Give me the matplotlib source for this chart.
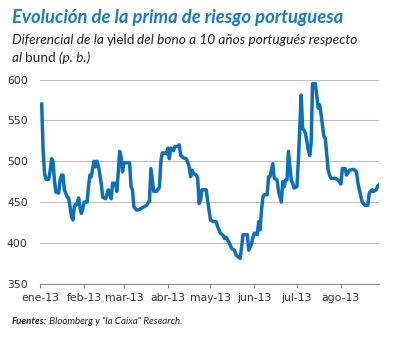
import numpy as np
import pandas as pd
import matplotlib
matplotlib.use('Agg')
import matplotlib.pyplot as plt

# ---- datos ----
# dias transcurridos desde el 1 de enero de 2013
dias = [1, 2, 3, 4, 6, 7, 8, 9, 10, 11, 13, 14, 15, 16, 17, 19, 20, 21, 22, 23,
        24, 25, 26, 27, 28, 29, 30, 31, 33, 34, 35, 36, 37, 38, 39, 40, 41, 43, 44, 46,
        48, 50, 51, 53, 54, 56, 57, 58, 59, 61, 63, 64, 65, 66, 68, 70, 73, 75, 77, 78,
        79, 80, 82, 84, 85, 86, 88, 89, 90, 91, 92, 94, 95, 97, 98, 99, 101, 103, 105, 106,
        107, 108, 110, 111, 112, 113, 114, 117, 118, 120, 122, 124, 125, 127, 129, 130, 131, 133, 135, 137,
        138, 141, 142, 143, 146, 147, 149, 150, 151, 153, 154, 155, 156, 157, 158, 160, 161, 162, 164, 165,
        167, 168, 170, 171, 172, 173, 174, 175, 177, 178, 179, 181, 182, 184, 185, 186, 187, 189, 190, 191,
        192, 194, 196, 197, 198, 200, 201, 203, 204, 205, 208, 210, 212, 213, 215, 216, 218, 221, 223, 224,
        225, 227, 229, 231, 232, 234, 235, 237, 238, 239]
prima = [570, 513, 485, 478, 478, 489, 503, 499, 477, 462, 461, 477, 483, 483, 465, 456, 455, 444, 432, 428,
         444, 447, 447, 455, 443, 436, 442, 450, 450, 469, 483, 481, 492, 500, 493, 500, 494, 473, 456, 454,
         465, 454, 473, 473, 463, 512, 505, 487, 498, 498, 498, 469, 465, 444, 440, 441, 444, 446, 452, 491,
         477, 463, 463, 468, 499, 510, 510, 509, 516, 503, 516, 513, 518, 518, 520, 507, 504, 503, 493, 481,
         489, 485, 483, 479, 448, 452, 465, 465, 452, 428, 426, 426, 420, 412, 409, 405, 407, 401, 393, 391,
         385, 381, 395, 410, 410, 391, 399, 407, 412, 410, 426, 416, 440, 456, 459, 459, 481, 481, 497, 479,
         477, 463, 450, 475, 469, 477, 477, 512, 477, 473, 467, 469, 501, 581, 540, 538, 534, 514, 507, 522,
         595, 595, 565, 569, 558, 530, 528, 489, 483, 479, 479, 477, 472, 491, 491, 483, 489, 490, 487, 473,
         465, 450, 446, 446, 461, 465, 463, 465, 470, 471]

meses = ['ene-13', 'feb-13', 'mar-13', 'abr-13', 'may-13', 'jun-13', 'jul-13', 'ago-13']
y_ticks = [350, 400, 450, 500, 550, 600]

inicio = pd.Timestamp('2013-01-01')
fechas = inicio + pd.to_timedelta(dias, unit='D')
pos_meses = pd.date_range('2013-01-01', periods=len(meses), freq='MS')

azul = '#0c6fba'
gris = '#bfbfbf'

fig = plt.figure(figsize=(3.95, 3.38), dpi=100)
ax = fig.add_axes([0.102, 0.1607, 0.858, 0.604])

ax.plot(fechas, prima, color=azul, lw=2.5, solid_joinstyle='round', zorder=3)

ax.set_ylim(350, 600)
ax.set_xlim(inicio, inicio + pd.Timedelta(days=239))
ax.set_yticks(y_ticks)
ax.set_xticks(pos_meses)
ax.set_xticklabels(meses)
ax.grid(axis='y', color=gris, lw=0.8)
ax.set_axisbelow(True)

for s in ['top', 'right', 'left']:
    ax.spines[s].set_visible(False)
ax.spines['bottom'].set_color('#8c8c8c')
ax.spines['bottom'].set_linewidth(0.8)
ax.tick_params(axis='y', length=0, pad=9, labelsize=7.8, labelcolor='#333333')
ax.tick_params(axis='x', length=3, direction='out', color='#8c8c8c', pad=4,
               labelsize=7.8, labelcolor='#333333')

# ---- textos ----
fig.text(12 / 395, 1 - 17 / 338, 'Evolución de la prima de riesgo portuguesa',
         color='#1a7cc4', fontsize=13.3, fontweight='bold', fontstyle='italic',
         family='Lato', va='center', ha='left')

fs = 9.8
txt = dict(fontsize=fs, family='Lato', color='#222222')
t1 = fig.text(12 / 395, 1 - 40 / 338, 'Diferencial de la ', fontstyle='italic',
              va='center', **txt)
t2 = ax.annotate('yield', xy=(1, 0), xycoords=t1, va='bottom', **txt)
t3 = ax.annotate('del bono a 10 años portugués respecto', xy=(1, 0), xycoords=t2,
                 xytext=(0.8, 0), textcoords='offset points',
                 va='bottom', fontstyle='italic', **txt)
t4 = fig.text(12 / 395, 1 - 58 / 338, 'al ', fontstyle='italic', va='center', **txt)
t5 = ax.annotate('bund', xy=(1, 0), xycoords=t4, va='bottom', **txt)
ax.annotate('(p. b.)', xy=(1, 0), xycoords=t5, xytext=(2.2, 0), textcoords='offset points',
            va='bottom', fontstyle='italic', **txt)

f1 = fig.text(12 / 395, 1 - 322 / 338, 'Fuentes:', fontsize=7, fontweight='bold',
              fontstyle='italic', family='Lato', va='center', color='#222222')
ax.annotate(' Bloomberg y "la Caixa" Research.', xy=(1, 0), xycoords=f1, va='bottom',
            fontsize=7, fontstyle='italic', family='Lato', color='#222222')

fig.savefig('out.png', dpi=100, facecolor='white')
